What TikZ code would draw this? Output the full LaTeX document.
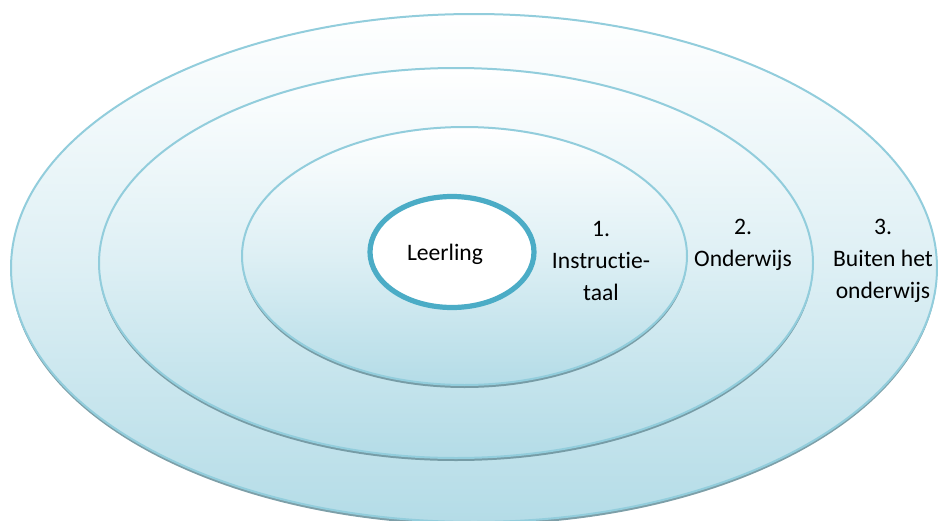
\documentclass[tikz,border=0pt]{standalone}
\usepackage{fontspec}
\setmainfont{Carlito}[Ligatures={NoCommon}]
\usetikzlibrary{shapes.geometric,shadows}
\definecolor{ringline}{HTML}{92CDDC}
\definecolor{ringfill}{HTML}{B4DCE7}
\definecolor{ringshadow}{HTML}{6F959F}
\definecolor{coreline}{HTML}{4BACC6}
\tikzset{
  ring/.style={ellipse, draw=ringline, line width=1pt, inner sep=0pt,
    top color=white, bottom color=ringfill, middle color=ringfill!45!white,
    drop shadow={shadow xshift=0pt, shadow yshift=-1.5pt, fill=ringshadow, opacity=0.9}},
  core/.style={ellipse, draw=coreline, line width=2.6pt, fill=white, inner sep=0pt},
  lbl/.style={align=center, font=\fontsize{11.8}{16}\selectfont, inner sep=0pt}
}
\begin{document}
\begin{tikzpicture}[x=0.5pt,y=-0.5pt]
\useasboundingbox (0,0) rectangle (938,520);
\clip (0,0) rectangle (938,520);
\node[ring, minimum width=463pt, minimum height=254pt] (outer) at (474,268) {};
\node[ring, minimum width=357pt, minimum height=195pt] (middle) at (456,263) {};
\node[ring, minimum width=222.5pt, minimum height=129pt] (inner) at (464.5,256) {};
\node[core, minimum width=82pt, minimum height=55.5pt] (core) at (452,252) {};
\node[lbl] (leerling) at (445,254) {Leerling};
\node[lbl] (l1) at (601,261) {1.\\Instructie-\\taal};
\node[lbl] (l2) at (743,245) {2.\\Onderwijs};
\node[lbl] (l3) at (883,261) {3.\\Buiten het\\onderwijs};
\end{tikzpicture}
\end{document}
